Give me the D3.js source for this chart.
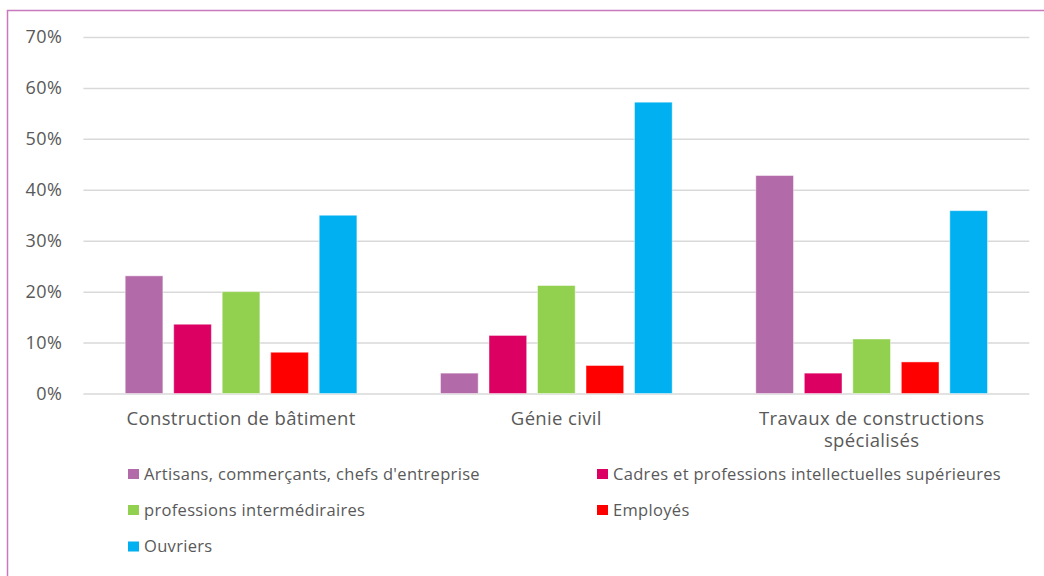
<!DOCTYPE html>
<html><head><meta charset="utf-8">
<script src="https://cdn.jsdelivr.net/npm/d3@7"></script>
<style>body{margin:0;background:#fff;} text{font-family:"Open Sans",sans-serif;fill:#595959;}</style>
</head><body><svg id="c" width="1044" height="576"></svg>
<script>
const categories = [["Construction de bâtiment"], ["Génie civil"], ["Travaux de constructions", "spécialisés"]];
const seriesNames = ["Artisans, commerçants, chefs d'entreprise", "Cadres et professions intellectuelles supérieures", "professions intermédiraires", "Employés", "Ouvriers"];
const seriesColors = ["#b36aa8", "#db0062", "#92d050", "#ff0000", "#00b0f0"];
const artisans = [23.1, 4.0, 42.8];
const cadres = [13.6, 11.4, 4.0];
const intermediaires = [20.0, 21.2, 10.7];
const employes = [8.1, 5.5, 6.2];
const ouvriers = [35.0, 57.2, 35.9];
const yTicks = [0, 10, 20, 30, 40, 50, 60, 70];

const seriesValues = [artisans, cadres, intermediaires, employes, ouvriers];
const svg = d3.select("#c");
const catKeys = categories.map(c => c.join(" "));

// frame
svg.append("rect").attr("x", 7.5).attr("y", 10.5).attr("width", 1100).attr("height", 600)
  .attr("fill", "none").attr("stroke", "#c879bd").attr("stroke-width", 1.5);

const y = d3.scaleLinear().domain([0, 70]).range([393.5, 37]);
const x0 = d3.scaleBand().domain(catKeys).range([83.4, 1029.3]);
const inner = 41.8;
const x1 = d3.scaleBand().domain(seriesNames).range([inner, x0.bandwidth() - inner]).paddingInner(0.223);

// grid
const yAxis = d3.axisLeft(y).tickValues(yTicks).tickFormat(d => d + "%").tickSize(-(1029.3 - 83.4)).tickPadding(21);
const gy = svg.append("g").attr("transform", "translate(83.4,0)").call(yAxis);
gy.select(".domain").remove();
gy.selectAll(".tick line").attr("stroke", "#d9d9d9").attr("stroke-width", 1.5);
gy.selectAll(".tick text").attr("font-size", 18).attr("letter-spacing", 0.5).attr("fill", "#595959");

// bars
const groups = svg.append("g").selectAll("g").data(catKeys).join("g")
  .attr("transform", d => `translate(${x0(d)},0)`);
groups.selectAll("rect").data((d, i) => seriesNames.map((s, j) => ({s, v: seriesValues[j][i], c: seriesColors[j]})))
  .join("rect")
  .attr("x", d => x1(d.s)).attr("width", x1.bandwidth())
  .attr("y", d => y(d.v)).attr("height", d => y(0) - y(d.v))
  .attr("fill", d => d.c).attr("stroke", "rgba(255,255,255,0.45)").attr("stroke-width", 1);

// category labels
const cl = svg.append("g").selectAll("text").data(categories).join("text")
  .attr("x", (d, i) => x0(catKeys[i]) + x0.bandwidth() / 2)
  .attr("y", 425).attr("text-anchor", "middle").attr("font-size", 18.5).attr("letter-spacing", 0.35);
cl.selectAll("tspan").data(d => d).join("tspan")
  .attr("x", function() { return this.parentNode.getAttribute("x"); })
  .attr("dy", (d, i) => i === 0 ? 0 : 22).text(d => d);

// legend
const legPos = [[128, 474], [597, 474], [128, 510], [597, 510], [128, 546.5]];
const lg = svg.append("g").selectAll("g").data(seriesNames).join("g")
  .attr("transform", (d, i) => `translate(${legPos[i][0]},${legPos[i][1]})`);
lg.append("rect").attr("x", 0).attr("y", -5).attr("width", 11).attr("height", 10).attr("fill", (d, i) => seriesColors[i]);
lg.append("text").attr("x", 16).attr("y", 5.5).attr("font-size", 16.5).attr("letter-spacing", 0.32).text(d => d);
</script></body></html>
